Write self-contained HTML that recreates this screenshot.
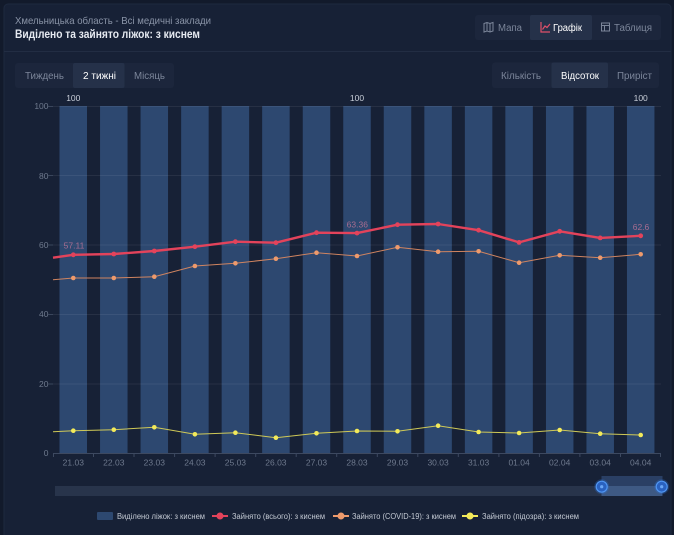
<!DOCTYPE html>
<html><head><meta charset="utf-8"><style>
html,body{margin:0;padding:0;background:#121a2b;width:674px;height:535px;overflow:hidden}
svg{display:block;font-family:"Liberation Sans","DejaVu Sans",sans-serif}
</style></head><body>
<svg width="674" height="535" viewBox="0 0 674 535" xmlns="http://www.w3.org/2000/svg">
<rect x="0" y="0" width="674" height="535" fill="#121a2b"/>
<rect x="4" y="4" width="667" height="545" rx="4" fill="#172136" stroke="#1e293f" stroke-width="1"/>
<line x1="4" y1="51.5" x2="671" y2="51.5" stroke="#222d43" stroke-width="1"/>

<!-- header -->
<text x="15" y="24" font-size="10.5" fill="#8a94a7" textLength="196" lengthAdjust="spacingAndGlyphs">Хмельницька область - Всі медичні заклади</text>
<text x="15" y="38" font-size="11.5" font-weight="bold" fill="#e6eaf1" textLength="185" lengthAdjust="spacingAndGlyphs">Виділено та зайнято ліжок: з киснем</text>

<!-- top right buttons -->
<rect x="475" y="15" width="186" height="25" rx="3" fill="#1c263c"/>
<rect x="530" y="15" width="62" height="25" rx="2" fill="#253149"/>
<!-- map icon -->
<g stroke="#7c869a" stroke-width="1" fill="none">
<path d="M484 23.5 L487 22.5 L490 23.5 L493 22.5 L493 31 L490 32 L487 31 L484 32 Z"/>
<line x1="487" y1="22.5" x2="487" y2="31"/><line x1="490" y1="23.5" x2="490" y2="32"/>
</g>
<text x="498" y="31" font-size="10" fill="#7c869a" textLength="24" lengthAdjust="spacingAndGlyphs">Мапа</text>
<!-- chart icon -->
<g stroke="#e0506a" stroke-width="1.2" fill="none">
<path d="M541 22 L541 32 L550 32"/><path d="M542.5 29.5 L545 26 L547 27.5 L550 24"/>
</g>
<text x="553" y="31" font-size="10" fill="#ffffff" textLength="29" lengthAdjust="spacingAndGlyphs">Графік</text>
<!-- table icon -->
<g stroke="#7c869a" stroke-width="1" fill="none">
<rect x="601.5" y="23" width="8" height="8"/><line x1="601.5" y1="25.5" x2="609.5" y2="25.5"/><line x1="604.5" y1="25.5" x2="604.5" y2="31"/>
</g>
<text x="614" y="31" font-size="10" fill="#7c869a" textLength="38" lengthAdjust="spacingAndGlyphs">Таблиця</text>

<!-- second row -->
<rect x="15" y="63" width="159" height="25" rx="3" fill="#1c263c"/>
<rect x="73" y="63" width="51.5" height="25" rx="2" fill="#253149"/>
<text x="25" y="79" font-size="10" fill="#7c869a" textLength="39" lengthAdjust="spacingAndGlyphs">Тиждень</text>
<text x="83" y="79" font-size="10" fill="#ffffff" textLength="33" lengthAdjust="spacingAndGlyphs">2 тижні</text>
<text x="134" y="79" font-size="10" fill="#7c869a" textLength="31" lengthAdjust="spacingAndGlyphs">Місяць</text>

<rect x="492" y="62.5" width="167" height="25.5" rx="3" fill="#1c263c"/>
<rect x="551.5" y="62.5" width="56.5" height="25.5" rx="2" fill="#253149"/>
<text x="501" y="79" font-size="10" fill="#7c869a" textLength="40" lengthAdjust="spacingAndGlyphs">Кількість</text>
<text x="561" y="79" font-size="10" fill="#ffffff" textLength="38" lengthAdjust="spacingAndGlyphs">Відсоток</text>
<text x="617" y="79" font-size="10" fill="#7c869a" textLength="35" lengthAdjust="spacingAndGlyphs">Приріст</text>

<!-- y labels -->
<g font-size="8.5" fill="#6e798d" text-anchor="end">
<text x="48.5" y="109">100</text>
<text x="48.5" y="179">80</text>
<text x="48.5" y="248">60</text>
<text x="48.5" y="317">40</text>
<text x="48.5" y="387">20</text>
<text x="48.5" y="456">0</text>
</g>

<!-- bars -->
<g fill="#2d4870">
<rect x="59.5" y="106" width="27.5" height="347"/>
<rect x="100.05" y="106" width="27.5" height="347"/>
<rect x="140.55" y="106" width="27.5" height="347"/>
<rect x="181.15" y="106" width="27.5" height="347"/>
<rect x="221.65" y="106" width="27.5" height="347"/>
<rect x="262.15" y="106" width="27.5" height="347"/>
<rect x="302.75" y="106" width="27.5" height="347"/>
<rect x="343.25" y="106" width="27.5" height="347"/>
<rect x="383.75" y="106" width="27.5" height="347"/>
<rect x="424.35" y="106" width="27.5" height="347"/>
<rect x="464.85" y="106" width="27.5" height="347"/>
<rect x="505.35" y="106" width="27.5" height="347"/>
<rect x="545.95" y="106" width="27.5" height="347"/>
<rect x="586.45" y="106" width="27.5" height="347"/>
<rect x="626.95" y="106" width="27.5" height="347"/>
</g>

<!-- grid -->
<g stroke="#ffffff" stroke-opacity="0.07" stroke-width="1">
<line x1="53" y1="106.5" x2="661" y2="106.5"/>
<line x1="53" y1="175.5" x2="661" y2="175.5"/>
<line x1="53" y1="245" x2="661" y2="245"/>
<line x1="53" y1="314.5" x2="661" y2="314.5"/>
<line x1="53" y1="384" x2="661" y2="384"/>
</g>
<g stroke="#3a465c" stroke-width="1">
<line x1="48" y1="106.5" x2="53" y2="106.5"/>
<line x1="48" y1="175.5" x2="53" y2="175.5"/>
<line x1="48" y1="245" x2="53" y2="245"/>
<line x1="48" y1="314.5" x2="53" y2="314.5"/>
<line x1="48" y1="384" x2="53" y2="384"/>
</g>

<!-- x axis -->
<line x1="53" y1="453.5" x2="661" y2="453.5" stroke="#3d4960" stroke-width="1"/>
<g stroke="#3d4960" stroke-width="1">
<line x1="53.5" y1="453" x2="53.5" y2="457"/><line x1="93.5" y1="453" x2="93.5" y2="457"/><line x1="134" y1="453" x2="134" y2="457"/><line x1="174.6" y1="453" x2="174.6" y2="457"/><line x1="215.1" y1="453" x2="215.1" y2="457"/><line x1="255.7" y1="453" x2="255.7" y2="457"/><line x1="296.2" y1="453" x2="296.2" y2="457"/><line x1="336.7" y1="453" x2="336.7" y2="457"/><line x1="377.3" y1="453" x2="377.3" y2="457"/><line x1="417.8" y1="453" x2="417.8" y2="457"/><line x1="458.3" y1="453" x2="458.3" y2="457"/><line x1="498.9" y1="453" x2="498.9" y2="457"/><line x1="539.4" y1="453" x2="539.4" y2="457"/><line x1="579.9" y1="453" x2="579.9" y2="457"/><line x1="620.5" y1="453" x2="620.5" y2="457"/><line x1="660.5" y1="453" x2="660.5" y2="457"/>
</g>
<g font-size="8.5" fill="#6e798d" text-anchor="middle">
<text x="73.3" y="465.5">21.03</text><text x="113.8" y="465.5">22.03</text><text x="154.3" y="465.5">23.03</text><text x="194.9" y="465.5">24.03</text><text x="235.4" y="465.5">25.03</text><text x="275.9" y="465.5">26.03</text><text x="316.5" y="465.5">27.03</text><text x="357" y="465.5">28.03</text><text x="397.5" y="465.5">29.03</text><text x="438.1" y="465.5">30.03</text><text x="478.6" y="465.5">31.03</text><text x="519.1" y="465.5">01.04</text><text x="559.7" y="465.5">02.04</text><text x="600.2" y="465.5">03.04</text><text x="640.7" y="465.5">04.04</text>
</g>

<!-- bar labels -->
<g font-size="8.5" fill="#c8ced8" text-anchor="middle">
<text x="73.3" y="101">100</text><text x="357" y="101">100</text><text x="640.7" y="101">100</text>
</g>

<!-- yellow series -->
<polyline fill="none" stroke="#cfc957" stroke-width="1" points="53,431.7 73.3,430.7 113.8,429.7 154.3,427.3 194.9,434.3 235.4,432.7 275.9,437.7 316.5,433.3 357,431 397.5,431.3 438.1,425.7 478.6,432 519.1,433 559.7,430 600.2,433.7 640.7,435"/>
<g fill="#f3ea5a">
<circle cx="73.3" cy="430.7" r="2.3"/><circle cx="113.8" cy="429.7" r="2.3"/><circle cx="154.3" cy="427.3" r="2.3"/><circle cx="194.9" cy="434.3" r="2.3"/><circle cx="235.4" cy="432.7" r="2.3"/><circle cx="275.9" cy="437.7" r="2.3"/><circle cx="316.5" cy="433.3" r="2.3"/><circle cx="357" cy="431" r="2.3"/><circle cx="397.5" cy="431.3" r="2.3"/><circle cx="438.1" cy="425.7" r="2.3"/><circle cx="478.6" cy="432" r="2.3"/><circle cx="519.1" cy="433" r="2.3"/><circle cx="559.7" cy="430" r="2.3"/><circle cx="600.2" cy="433.7" r="2.3"/><circle cx="640.7" cy="435" r="2.3"/>
</g>

<!-- orange series -->
<polyline fill="none" stroke="#d08460" stroke-width="1" points="53,279.7 73.3,278 113.8,278 154.3,276.7 194.9,266 235.4,263.3 275.9,258.7 316.5,252.7 357,256 397.5,247.3 438.1,251.7 478.6,251.3 519.1,262.7 559.7,255.3 600.2,257.7 640.7,254.3"/>
<g fill="#ee9a6c">
<circle cx="73.3" cy="278" r="2.3"/><circle cx="113.8" cy="278" r="2.3"/><circle cx="154.3" cy="276.7" r="2.3"/><circle cx="194.9" cy="266" r="2.3"/><circle cx="235.4" cy="263.3" r="2.3"/><circle cx="275.9" cy="258.7" r="2.3"/><circle cx="316.5" cy="252.7" r="2.3"/><circle cx="357" cy="256" r="2.3"/><circle cx="397.5" cy="247.3" r="2.3"/><circle cx="438.1" cy="251.7" r="2.3"/><circle cx="478.6" cy="251.3" r="2.3"/><circle cx="519.1" cy="262.7" r="2.3"/><circle cx="559.7" cy="255.3" r="2.3"/><circle cx="600.2" cy="257.7" r="2.3"/><circle cx="640.7" cy="254.3" r="2.3"/>
</g>

<!-- red series -->
<polyline fill="none" stroke="#e3435b" stroke-width="2.4" stroke-linejoin="round" points="53,257.7 73.3,254.8 113.8,254 154.3,251 194.9,246.7 235.4,241.7 275.9,242.7 316.5,232.7 357,233.1 397.5,224.7 438.1,224 478.6,230.2 519.1,242.4 559.7,231.3 600.2,237.9 640.7,235.8"/>
<g fill="#e3435b">
<circle cx="73.3" cy="254.8" r="2.4"/><circle cx="113.8" cy="254" r="2.4"/><circle cx="154.3" cy="251" r="2.4"/><circle cx="194.9" cy="246.7" r="2.4"/><circle cx="235.4" cy="241.7" r="2.4"/><circle cx="275.9" cy="242.7" r="2.4"/><circle cx="316.5" cy="232.7" r="2.4"/><circle cx="357" cy="233.1" r="2.4"/><circle cx="397.5" cy="224.7" r="2.4"/><circle cx="438.1" cy="224" r="2.4"/><circle cx="478.6" cy="230.2" r="2.4"/><circle cx="519.1" cy="242.4" r="2.4"/><circle cx="559.7" cy="231.3" r="2.4"/><circle cx="600.2" cy="237.9" r="2.4"/><circle cx="640.7" cy="235.8" r="2.4"/>
</g>
<g font-size="8.5" fill="#a86d90" text-anchor="middle">
<text x="74" y="248.5">57.11</text><text x="357.3" y="227.5">63.36</text><text x="641" y="230">62.6</text>
</g>

<!-- data zoom slider -->
<rect x="55" y="486" width="607" height="10" fill="#28344b"/>
<rect x="601.5" y="476" width="61" height="20" fill="#3a5a8a" fill-opacity="0.55"/>
<rect x="601.5" y="486" width="61" height="10" fill="#4a6a9a" fill-opacity="0.5"/>
<g>
<circle cx="601.7" cy="486.7" r="7.5" fill="#2f6fd6" fill-opacity="0.3"/>
<circle cx="601.7" cy="486.7" r="5.5" fill="#2a62c0" stroke="#4f95f2" stroke-width="1.2"/>
<circle cx="601.7" cy="486.7" r="1.6" fill="#6aa6f5"/>
<circle cx="661.7" cy="486.7" r="7.5" fill="#2f6fd6" fill-opacity="0.3"/>
<circle cx="661.7" cy="486.7" r="5.5" fill="#2a62c0" stroke="#4f95f2" stroke-width="1.2"/>
<circle cx="661.7" cy="486.7" r="1.6" fill="#6aa6f5"/>
</g>

<!-- legend -->
<rect x="97" y="512" width="16" height="8" rx="1" fill="#2d4870"/>
<text x="117" y="519" font-size="8" fill="#c3c9d3" textLength="88" lengthAdjust="spacingAndGlyphs">Виділено ліжок: з киснем</text>
<line x1="212" y1="516" x2="228" y2="516" stroke="#e3435b" stroke-width="2"/>
<circle cx="220" cy="516" r="3.5" fill="#e3435b"/>
<text x="232" y="519" font-size="8" fill="#c3c9d3" textLength="93" lengthAdjust="spacingAndGlyphs">Зайнято (всього): з киснем</text>
<line x1="333" y1="516" x2="349" y2="516" stroke="#ee9a6c" stroke-width="2"/>
<circle cx="341" cy="516" r="3.5" fill="#ee9a6c"/>
<text x="352" y="519" font-size="8" fill="#c3c9d3" textLength="104" lengthAdjust="spacingAndGlyphs">Зайнято (COVID-19): з киснем</text>
<line x1="462" y1="516" x2="478" y2="516" stroke="#f3ea5a" stroke-width="2"/>
<circle cx="470" cy="516" r="3.5" fill="#f3ea5a"/>
<text x="482" y="519" font-size="8" fill="#c3c9d3" textLength="97" lengthAdjust="spacingAndGlyphs">Зайнято (підозра): з киснем</text>
</svg>
</body></html>
